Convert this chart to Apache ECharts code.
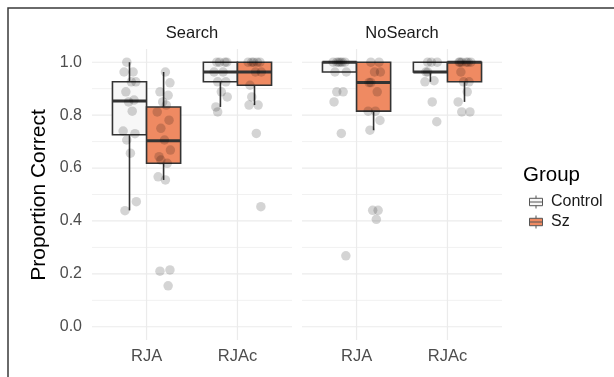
<!DOCTYPE html>
<html>
<head>
<meta charset="utf-8">
<script src="https://cdn.jsdelivr.net/npm/echarts@6/dist/echarts.min.js"></script>
<style>
  html, body { margin: 0; padding: 0; background: #ffffff; }
  #chart { width: 614px; height: 377px; }
</style>
</head>
<body>
<div id="chart"></div>
<script>
// ---------- data ----------
const categories = ['RJA', 'RJAc'];
const facets = ['Search', 'NoSearch'];
const groups = ['Control', 'Sz'];
const yTickLabels = [0, 0.2, 0.4, 0.6, 0.8, 1.0];
const yMinorTicks = [0.1, 0.3, 0.5, 0.7, 0.9];

// box stats per category: [lower whisker, Q1, median, Q3, upper whisker]
const searchControlBox   = [[0.44, 0.726, 0.853, 0.926, 1.0], [0.831, 0.926, 0.963, 1.0, 1.0]];
const searchSzBox        = [[0.555, 0.618, 0.703, 0.831, 0.963], [0.838, 0.913, 0.963, 1.0, 1.0]];
const noSearchControlBox = [[0.963, 0.963, 1.0, 1.0, 1.0], [0.926, 0.963, 0.963, 1.0, 1.0]];
const noSearchSzBox      = [[0.743, 0.815, 0.923, 1.0, 1.0], [0.85, 0.926, 1.0, 1.0, 1.0]];

// individual observations
const searchControlRJA  = [1.0, 0.963, 0.963, 0.926, 0.926, 0.888, 0.857, 0.85, 0.815, 0.74, 0.73, 0.706, 0.656, 0.473, 0.439];
const searchSzRJA       = [0.963, 0.922, 0.888, 0.875, 0.85, 0.838, 0.812, 0.781, 0.75, 0.706, 0.668, 0.643, 0.63, 0.618, 0.567, 0.555, 0.215, 0.21, 0.155];
const searchControlRJAc = [1.0, 1.0, 1.0, 1.0, 0.963, 0.963, 0.926, 0.926, 0.888, 0.869, 0.831, 0.812];
const searchSzRJAc      = [1.0, 1.0, 1.0, 1.0, 1.0, 0.963, 0.963, 0.913, 0.869, 0.838, 0.838, 0.731, 0.454];
const noSearchControlRJA  = [1.0, 1.0, 1.0, 1.0, 1.0, 1.0, 0.963, 0.963, 0.888, 0.888, 0.85, 0.731, 0.268];
const noSearchSzRJA       = [1.0, 1.0, 0.963, 0.963, 0.923, 0.923, 0.888, 0.815, 0.815, 0.78, 0.743, 0.44, 0.44, 0.406];
const noSearchControlRJAc = [1.0, 1.0, 1.0, 0.963, 0.963, 0.93, 0.926, 0.85, 0.775];
const noSearchSzRJAc      = [1.0, 1.0, 1.0, 1.0, 1.0, 1.0, 0.963, 0.926, 0.926, 0.888, 0.85, 0.812, 0.812];

// ---------- layout / style ----------
const FONT = '"Liberation Sans", Arial, Helvetica, sans-serif';
const COLORS = { Control: '#f7f7f7', Sz: '#ef8a62' };
const LINE = '#333333';
const BOX_W = 0.375;          // dodge width 0.75 split in two
const OFFSETS = { Control: -0.1875, Sz: 0.1875 };
const JITTER = [-0.03, 0.04, -0.06, 0.02, 0.07, -0.04, 0.05, -0.01, 0.03, -0.07, 0.06, -0.03, 0.01, 0.075, -0.05];

const boxData = [
  { Control: searchControlBox, Sz: searchSzBox },
  { Control: noSearchControlBox, Sz: noSearchSzBox }
];
const pointData = [
  { Control: [searchControlRJA, searchControlRJAc], Sz: [searchSzRJA, searchSzRJAc] },
  { Control: [noSearchControlRJA, noSearchControlRJAc], Sz: [noSearchSzRJA, noSearchSzRJAc] }
];

function boxRenderer(group) {
  return function (params, api) {
    const x = api.value(0);
    const hw = BOX_W / 2;
    const lo = api.coord([x, api.value(1)]);
    const q1 = api.coord([x, api.value(2)]);
    const q3 = api.coord([x, api.value(4)]);
    const hi = api.coord([x, api.value(5)]);
    const bl = api.coord([x - hw, api.value(2)]);
    const tr = api.coord([x + hw, api.value(4)]);
    const ml = api.coord([x - hw, api.value(3)]);
    const mr = api.coord([x + hw, api.value(3)]);
    const ls = { stroke: LINE, lineWidth: 1.6 };
    return {
      type: 'group',
      children: [
        { type: 'line', shape: { x1: lo[0], y1: lo[1], x2: q1[0], y2: q1[1] }, style: ls },
        { type: 'line', shape: { x1: q3[0], y1: q3[1], x2: hi[0], y2: hi[1] }, style: ls },
        { type: 'rect', shape: { x: bl[0], y: tr[1], width: tr[0] - bl[0], height: Math.max(bl[1] - tr[1], 0.5) },
          style: { fill: COLORS[group], stroke: LINE, lineWidth: 1.6 } },
        { type: 'line', shape: { x1: ml[0], y1: ml[1], x2: mr[0], y2: mr[1] }, style: { stroke: LINE, lineWidth: 3 } }
      ]
    };
  };
}

function gridRenderer(params, api) {
  const cs = params.coordSys;
  const kind = api.value(0);
  const v = api.value(1);
  if (kind === 2) {
    const p = api.coord([v, 0]);
    return { type: 'line', shape: { x1: p[0], y1: cs.y, x2: p[0], y2: cs.y + cs.height },
      style: { stroke: '#ebebeb', lineWidth: 1.2 } };
  }
  const p = api.coord([1, v]);
  return { type: 'line', shape: { x1: cs.x, y1: p[1], x2: cs.x + cs.width, y2: p[1] },
    style: { stroke: kind === 0 ? '#ebebeb' : '#f1f1f1', lineWidth: kind === 0 ? 1.2 : 1 } };
}

const gridLineData = []
  .concat(yTickLabels.map(v => [0, v]))
  .concat(yMinorTicks.map(v => [1, v]))
  .concat(categories.map((c, i) => [2, i + 1]));

const grids = [
  { left: 92, top: 49, width: 200, height: 291 },
  { left: 302, top: 49, width: 200, height: 291 }
];

const xAxes = grids.map((g, i) => ({
  type: 'value', gridIndex: i, min: 0.4, max: 2.6,
  axisLine: { show: false }, axisTick: { show: false }, splitLine: { show: false },
  axisLabel: {
    customValues: categories.map((c, k) => k + 1),
    formatter: v => categories[Math.round(v) - 1] || '',
    color: '#4d4d4d', fontSize: 16.5, fontFamily: FONT, margin: 8
  }
}));

const yAxes = grids.map((g, i) => ({
  type: 'value', gridIndex: i, min: -0.05, max: 1.05,
  axisLine: { show: false }, axisTick: { show: false }, splitLine: { show: false },
  axisLabel: {
    show: i === 0,
    customValues: yTickLabels,
    formatter: v => v.toFixed(1),
    color: '#4d4d4d', fontSize: 16, fontFamily: FONT, margin: 10
  }
}));

const series = [];
grids.forEach((g, i) => {
  series.push({
    type: 'custom', name: 'grid' + i, xAxisIndex: i, yAxisIndex: i, z: 1, silent: true,
    renderItem: gridRenderer, data: gridLineData, encode: { x: 1, y: 1 }
  });
});
grids.forEach((g, i) => {
  groups.forEach(grp => {
    series.push({
      type: 'custom', name: grp, xAxisIndex: i, yAxisIndex: i, z: 2,
      itemStyle: { color: COLORS[grp], borderColor: LINE },
      renderItem: boxRenderer(grp),
      encode: { x: 0, y: [1, 2, 3, 4, 5] },
      data: boxData[i][grp].map((s, k) => [k + 1 + OFFSETS[grp]].concat(s))
    });
  });
});
grids.forEach((g, i) => {
  groups.forEach(grp => {
    const pts = [];
    pointData[i][grp].forEach((vals, k) => {
      vals.forEach((v, j) => {
        const jit = JITTER[(j + k * 4 + i * 7 + (grp === 'Sz' ? 3 : 0)) % JITTER.length];
        pts.push([k + 1 + OFFSETS[grp] + jit, v]);
      });
    });
    series.push({
      type: 'scatter', name: 'pts-' + grp + i, xAxisIndex: i, yAxisIndex: i, z: 3, silent: true,
      symbolSize: 9.5, itemStyle: { color: 'rgba(0,0,0,0.21)' }, data: pts
    });
  });
});

const boxIcon = 'path://M8,0V3M1,3H15V11H1ZM1,7H15M8,11V14';

const option = {
  animation: false,
  backgroundColor: '#ffffff',
  textStyle: { fontFamily: FONT },
  grid: grids,
  xAxis: xAxes,
  yAxis: yAxes,
  legend: {
    orient: 'vertical', left: 524, top: 189,
    itemWidth: 16, itemHeight: 13, itemGap: 4,
    selectedMode: false,
    textStyle: { fontSize: 16, color: '#1a1a1a', fontFamily: FONT, lineHeight: 16, padding: [0, 0, 0, 2] },
    data: groups.map(grp => ({
      name: grp, icon: boxIcon,
      itemStyle: { color: COLORS[grp], borderColor: '#555', borderWidth: 1 }
    }))
  },
  graphic: [
    { type: 'rect', shape: { x: 8, y: 8, width: 700, height: 500 }, silent: true,
      style: { fill: 'none', stroke: '#3a3a3a', lineWidth: 1.5 } },
    { type: 'text', x: 192, y: 33, silent: true,
      style: { text: facets[0], fontSize: 16.5, fontFamily: FONT, fill: '#1a1a1a', textAlign: 'center', textVerticalAlign: 'middle' } },
    { type: 'text', x: 402, y: 33, silent: true,
      style: { text: facets[1], fontSize: 16.5, fontFamily: FONT, fill: '#1a1a1a', textAlign: 'center', textVerticalAlign: 'middle' } },
    { type: 'text', x: 39, y: 195, rotation: Math.PI / 2, silent: true,
      style: { text: 'Proportion Correct', fontSize: 21, fontFamily: FONT, fill: '#000000', textAlign: 'center', textVerticalAlign: 'middle' } },
    { type: 'text', x: 523, y: 175, silent: true,
      style: { text: 'Group', fontSize: 20.5, fontFamily: FONT, fill: '#000000', textAlign: 'left', textVerticalAlign: 'middle' } }
  ],
  series: series
};

const chart = echarts.init(document.getElementById('chart'), null, { renderer: 'canvas' });
chart.setOption(option);
</script>
</body>
</html>
